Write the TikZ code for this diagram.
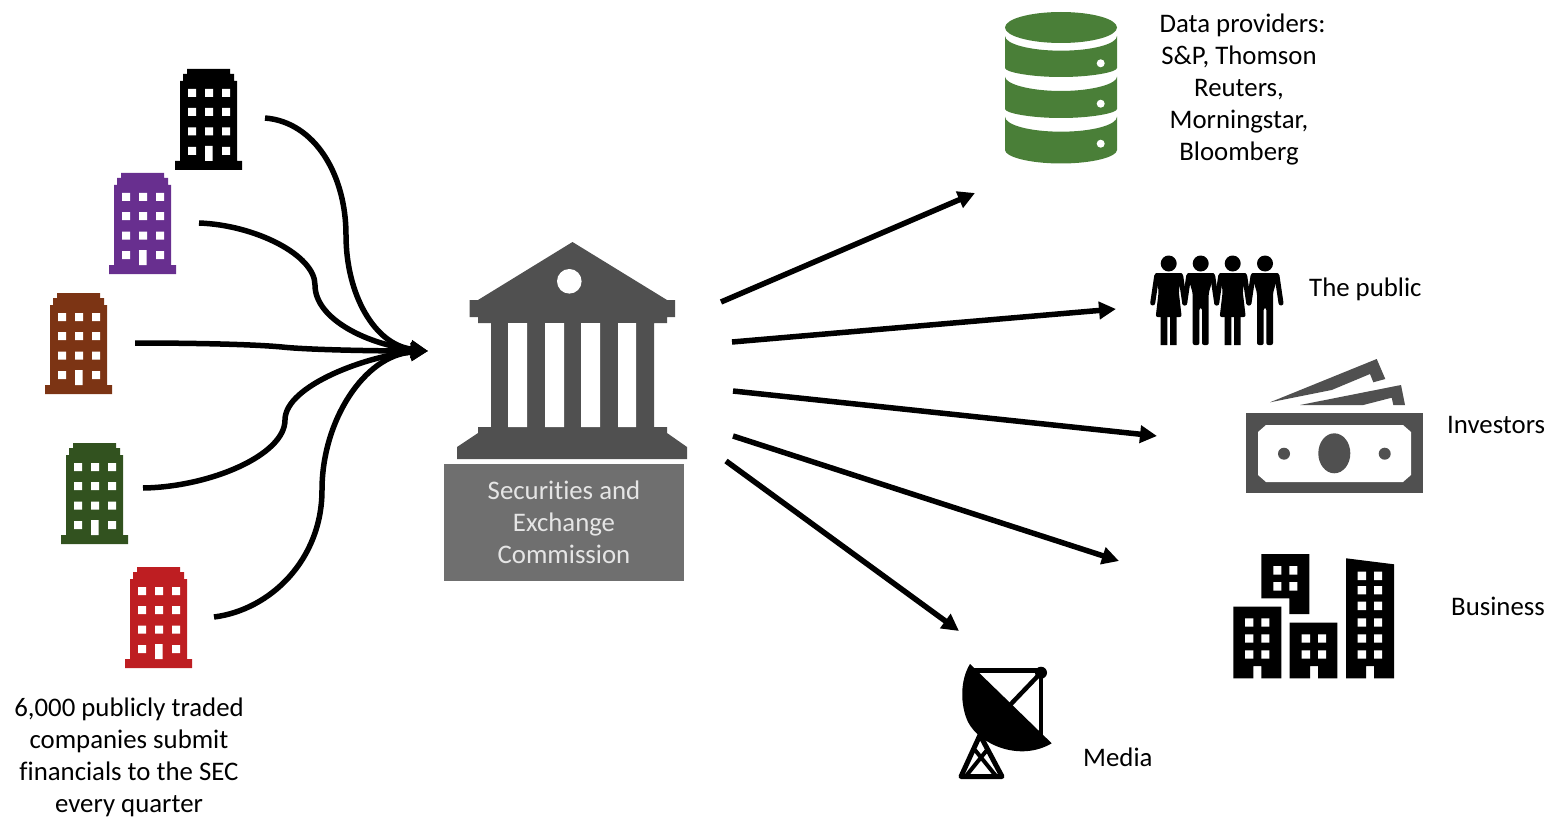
\documentclass[tikz,border=0pt]{standalone}
\usepackage{fontspec}
\setmainfont[RawFeature={-liga;-clig;-dlig}]{Carlito}
\usetikzlibrary{arrows.meta}
\definecolor{templegray}{HTML}{505050}
\definecolor{labelgray}{HTML}{6F6F6F}
\definecolor{bankgreen}{HTML}{4A7F38}
\definecolor{purpleco}{HTML}{682F8F}
\definecolor{brownco}{HTML}{7C3414}
\definecolor{greenco}{HTML}{32521F}
\definecolor{redco}{HTML}{BE1E22}
\tikzset{
  caption/.style={font=\fontsize{26.8}{32}\selectfont,align=center,inner sep=0pt,text=black},
  feed/.style={line width=5.5pt,-{Triangle[length=17pt,width=17pt]}},
  spread/.style={line width=5.5pt,-{Triangle[length=17pt,width=17pt]}},
  pics/tower/.style={code={
    \fill[#1] (5,12) -- (8,12) -- (8,5) -- (12,5) -- (12,0) -- (55,0) -- (55,5) -- (59,5) -- (59,12) -- (62,12)
      -- (62,92) -- (67,92) -- (67,101) -- (0,101) -- (0,92) -- (5,92) -- cycle;
    \fill[white] (13,20) rectangle ++(8,8) (30,20) rectangle ++(8,8) (47,20) rectangle ++(8,8)
      (13,39) rectangle ++(8,8) (30,39) rectangle ++(8,8) (47,39) rectangle ++(8,8)
      (13,58.5) rectangle ++(8,8) (30,58.5) rectangle ++(8,8) (47,58.5) rectangle ++(8,8)
      (13,78) rectangle ++(8,8) (30,77) rectangle ++(7.5,15) (47,78) rectangle ++(8,8);
  }},
  pics/woman/.style={code={
    \fill (0,-9.5) circle[radius=8pt];
    \fill[rounded corners=2pt] (-14,0) -- (14,0) -- (10,18) -- (13,44) -- (-13,44) -- (-10,18) -- cycle;
    \fill (-8,44) rectangle (-1.3,72) (1.3,44) rectangle (8,72);
    \draw[line width=5pt,line cap=round] (-12,3) -- (-16,30) (12,3) -- (16,30);
  }},
  pics/man/.style={code={
    \fill (0,-9.5) circle[radius=8pt];
    \fill[rounded corners=2pt] (-14,0) -- (14,0) -- (8,20) -- (8,72) -- (1.3,72) -- (1.3,35) -- (-1.3,35) -- (-1.3,72) -- (-8,72) -- (-8,20) -- cycle;
    \draw[line width=5pt,line cap=round] (-12,3) -- (-16,30) (12,3) -- (16,30);
  }},
}
\begin{document}
\begin{tikzpicture}[x=1pt,y=-1pt]
\useasboundingbox (0,0) rectangle (1557,821);
% companies
\pic at (175,69) {tower=black};
\pic at (109,173) {tower=purpleco};
\pic at (45,293) {tower=brownco};
\pic at (61,443) {tower=greenco};
\pic at (125,567) {tower=redco};
\coordinate (co1) at (265,118);
\coordinate (co2) at (199,223);
\coordinate (co3) at (135,343);
\coordinate (co4) at (143,488);
\coordinate (co5) at (214,617);
\coordinate (hub) at (428,351);
\draw[feed] (co1) .. controls (315,122) and (346,175) .. (346,235) .. controls (346,295) and (375,345) .. (hub);
\draw[feed] (co2) .. controls (255,225) and (315,255) .. (315,285) .. controls (315,320) and (370,345) .. (hub);
\draw[feed] (co3) .. controls (185,343) and (250,344) .. (282,347) .. controls (310,350) and (380,351) .. (hub);
\draw[feed] (co4) .. controls (210,487) and (285,455) .. (285,420) .. controls (285,385) and (370,355) .. (hub);
\draw[feed] (co5) .. controls (270,610) and (322,560) .. (322,490) .. controls (322,420) and (365,355) .. (hub);
\node[caption] (companies) at (129,757.5) {6,000 publicly traded\\companies submit\\financials to the SEC\\every quarter};
% SEC temple
\fill[templegray] (572.5,242) -- (478,300) -- (469.5,300) -- (469.5,317) -- (478,317) -- (478,323) -- (491,323)
  -- (491,427) -- (478,427) -- (478,433) -- (457,447) -- (457,459) -- (687,459) -- (687,447) -- (667,433) -- (667,427)
  -- (654,427) -- (654,323) -- (667,323) -- (667,317) -- (675,317) -- (675,300) -- (667,300) -- cycle;
\fill[white] (508,323) rectangle (527,427) (545,323) rectangle (564,427) (581,323) rectangle (600,427) (618,323) rectangle (636,427);
\fill[white] (569.3,281.3) circle[radius=12.3pt];
\node[minimum width=240pt,minimum height=117pt,inner sep=0pt,fill=labelgray,text=white!90!black,font=\fontsize{26.8}{32}\selectfont,align=center] (sec) at (564,522.5) {Securities and\\Exchange\\Commission};
% arrows out
\coordinate (s1) at (721,302); \coordinate (t1) at (975,193);
\coordinate (s2) at (732,342); \coordinate (t2) at (1116,309);
\coordinate (s3) at (733,391); \coordinate (t3) at (1157,436);
\coordinate (s4) at (733,436); \coordinate (t4) at (1119,561);
\coordinate (s5) at (726,461); \coordinate (t5) at (959,631);
\draw[spread] (s1) -- (t1);
\draw[spread] (s2) -- (t2);
\draw[spread] (s3) -- (t3);
\draw[spread] (s4) -- (t4);
\draw[spread] (s5) -- (t5);
% database
\fill[bankgreen] (1061,27.5) ellipse[x radius=56pt,y radius=15.5pt];
\fill[bankgreen] (1005,36) .. controls (1005,44) and (1030,50.7) .. (1061,50.7) .. controls (1092,50.7) and (1117,44) .. (1117,36)
  -- (1117,68) .. controls (1117,72) and (1092,77) .. (1061,77) .. controls (1030,77) and (1005,72) .. (1005,68) -- cycle;
\fill[bankgreen] (1005,76.7) .. controls (1005,84) and (1030,91) .. (1061,91) .. controls (1092,91) and (1117,84) .. (1117,76.7)
  -- (1117,109) .. controls (1117,113) and (1092,118) .. (1061,118) .. controls (1030,118) and (1005,113) .. (1005,109) -- cycle;
\fill[bankgreen] (1005,116.7) .. controls (1005,125) and (1030,131.7) .. (1061,131.7) .. controls (1092,131.7) and (1117,125) .. (1117,116.7)
  -- (1117,150) .. controls (1117,157) and (1092,163.5) .. (1061,163.5) .. controls (1030,163.5) and (1005,157) .. (1005,150) -- cycle;
\fill[white] (1100.7,63.3) circle[radius=4pt] (1100.7,103.7) circle[radius=4pt] (1100.7,143.7) circle[radius=4pt];
\node[caption] (data) at (1239,89.5) {\hspace*{7pt}Data providers:\\S\&P, Thomson\\Reuters,\\Morningstar,\\Bloomberg};
% public
\pic at (1168.7,273) {woman};
\pic at (1200.7,273) {man};
\pic at (1232.7,273) {woman};
\pic at (1265,273) {man};
\node[caption,anchor=west] (public) at (1309,289) {The public};
% investors
\fill[templegray] (1246,413.3) rectangle (1423,493.3);
\fill[white] (1266,425) -- (1403,425) -- (1411,432) -- (1411,475) -- (1403,482) -- (1266,482) -- (1258,475) -- (1258,432) -- cycle;
\fill[templegray] (1334.3,453.3) ellipse[x radius=16pt,y radius=20pt];
\fill[templegray] (1284,453.7) circle[radius=6pt] (1384.7,453.7) circle[radius=6pt];
\fill[templegray] (1270,402.3) -- (1376.7,359) -- (1385.3,379) -- (1373.3,382.3) -- (1370,374) -- (1331.7,390) -- cycle;
\fill[templegray] (1300,405) -- (1401,385) -- (1405,405) -- (1393.3,405) -- (1391.7,397.7) -- (1363.3,405) -- cycle;
\node[caption,anchor=west] (investors) at (1447,425) {Investors};
% business
\fill[black] (1261.3,554) -- (1309.3,554) -- (1309.3,614) -- (1289.3,614) -- (1289.3,598.3) -- (1261.3,598.3) -- cycle;
\fill[white] (1273.3,566) rectangle ++(8,8.5) (1289.3,566) rectangle ++(8,8.5) (1273.3,582) rectangle ++(8,8.5) (1289.3,582) rectangle ++(8,8.5);
\fill[black] (1233.3,606.7) -- (1281.3,606.7) -- (1281.3,678.3) -- (1261.3,678.3) -- (1261.3,666) -- (1253.3,666) -- (1253.3,678.3) -- (1233.3,678.3) -- cycle;
\fill[white] (1245,618.3) rectangle ++(8.3,8.4) (1261.3,618.3) rectangle ++(8,8.4) (1245,634.3) rectangle ++(8.3,8.4) (1261.3,634.3) rectangle ++(8,8.4) (1245,650.3) rectangle ++(8.3,8.4) (1261.3,650.3) rectangle ++(8,8.4);
\fill[black] (1289.7,622.7) -- (1337.3,622.7) -- (1337.3,678.3) -- (1318,678.3) -- (1318,666) -- (1310,666) -- (1310,678.3) -- (1289.7,678.3) -- cycle;
\fill[white] (1301.7,634.3) rectangle ++(8.3,8.4) (1318,634.3) rectangle ++(8,8.4) (1301.7,650.3) rectangle ++(8.3,8.4) (1318,650.3) rectangle ++(8,8.4);
\fill[black] (1346,558.3) -- (1394,564.3) -- (1394,678.3) -- (1374,678.3) -- (1374,666) -- (1366,666) -- (1366,678.3) -- (1346,678.3) -- cycle;
\foreach \yy in {571.7,586,601.7,618.3,634.3,650.3}
  \fill[white] (1357.7,\yy) rectangle ++(8.3,8.4) (1374,\yy) rectangle ++(8,8.4);
\node[caption,anchor=west] (business) at (1451,606) {Business};
% media
\fill[black] (970,664) .. controls (960,680) and (960,705) .. (968,722) .. controls (980,745) and (1020,762) .. (1051.7,743.3) -- cycle;
\draw[line width=4.5pt,line join=round] (970,670.7) -- (1041,670.7) -- (1041,735);
\draw[line width=4.5pt] (1041,672.7) -- (1010,705);
\fill (1041,672.7) circle[radius=6pt];
\draw[line width=5pt,line join=round,line cap=round] (980,735) -- (961,776.5) -- (1002,776.5) -- cycle;
\draw[line width=4pt] (975,750) -- (996,776) (987,750) -- (966,776);
\node[caption,anchor=west] (media) at (1083,757) {Media};
\end{tikzpicture}
\end{document}
